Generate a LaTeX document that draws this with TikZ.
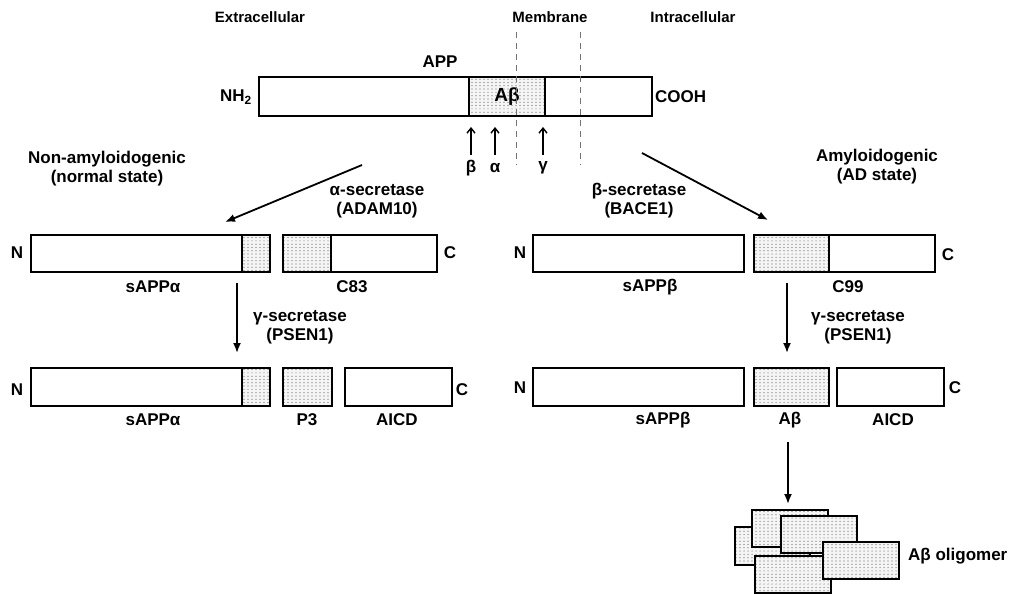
\documentclass[tikz,border=0pt]{standalone}
\usepackage{fontspec}
\setmainfont{Liberation Sans}
\usetikzlibrary{arrows.meta,patterns}
\pgfdeclarepatternformonly{mydots}{\pgfqpoint{-1pt}{-1pt}}{\pgfqpoint{1pt}{1pt}}{\pgfqpoint{4pt}{3.3pt}}{\pgfpathcircle{\pgfqpoint{0pt}{0pt}}{0.6pt}\pgfusepath{fill}}
\begin{document}
\begin{tikzpicture}[x=1pt,y=-1pt,
  seg/.style={draw, line width=2.6pt, inner sep=0pt, outer sep=0pt, anchor=north west, fill=white},
  dotseg/.style={seg, preaction={fill=black!4}, pattern=mydots, pattern color=black!60},
  txt/.style={inner sep=0pt, font=\fontsize{17}{19}\selectfont\bfseries},
  small/.style={inner sep=0pt, font=\fontsize{15}{17}\selectfont\bfseries},
  arr/.style={line width=1.8pt, -{Latex[length=10pt,width=8pt]}},
  cut/.style={line width=1.4pt, -{Straight Barb[length=5pt,width=8pt]}},
  membr/.style={line width=0.9pt, draw=black!55, dash pattern=on 6pt off 5pt}]
\useasboundingbox (0,0) rectangle (1013,594);

% top labels
\node[small] (ext) at (260,17) {Extracellular};
\node[small] (mem) at (550,17) {Membrane};
\node[small] (int) at (693,17) {Intracellular};

% membrane dashed lines
\coordinate (m1a) at (516,32); \coordinate (m1b) at (516,165);
\coordinate (m2a) at (580,32); \coordinate (m2b) at (580,165);

% APP
\node[txt] (applab) at (440,62) {APP};
\node[seg, minimum width=210pt, minimum height=39pt] (app1) at (259,77) {};
\node[dotseg, minimum width=76pt, minimum height=39pt] (app2) at (469,77) {};
\node[txt, font=\fontsize{19}{21}\selectfont\bfseries] (abtxt) at (507,97) {Aβ};
\node[seg, minimum width=107pt, minimum height=39pt] (app3) at (545,77) {};
\draw[membr] (m1a) -- (m1b);
\draw[membr] (m2a) -- (m2b);
\node[txt] (nh2) at (236,97) {NH\textsubscript{2}};
\node[txt, anchor=west] (cooh) at (655,97) {COOH};

% cleavage sites
\node[txt] (beta) at (471,168) {β};
\node[txt] (alpha) at (495,168) {α};
\node[txt] (gamma) at (543,168) {γ};
\coordinate (cb1) at (471,155); \coordinate (cb2) at (471,127);
\coordinate (ca1) at (495,155); \coordinate (ca2) at (495,127);
\coordinate (cg1) at (543,155); \coordinate (cg2) at (543,127);
\draw[cut] (cb1) -- (cb2);
\draw[cut] (ca1) -- (ca2);
\draw[cut] (cg1) -- (cg2);

% pathway labels
\node[txt, align=center] (nonam) at (107,169) {Non-amyloidogenic\\(normal state)};
\node[txt, align=center] (amy) at (877,167) {Amyloidogenic\\(AD state)};
\node[txt, align=center] (asec) at (377,201) {α-secretase\\(ADAM10)};
\node[txt, align=center] (bsec) at (639,201) {β-secretase\\(BACE1)};

\coordinate (l1) at (362,165); \coordinate (l2) at (225,222);
\coordinate (r1) at (642,153); \coordinate (r2) at (768,220);
\draw[arr] (l1) -- (l2);
\draw[arr] (r1) -- (r2);

% row 1 left
\node[txt] (n1l) at (17,253) {N};
\node[seg, minimum width=211pt, minimum height=37pt] (sa1) at (31,235) {};
\node[dotseg, minimum width=28pt, minimum height=37pt] (sa1d) at (242,235) {};
\node[dotseg, minimum width=48pt, minimum height=37pt] (c83d) at (283,235) {};
\node[seg, minimum width=106pt, minimum height=37pt] (c83w) at (331,235) {};
\node[txt] (c1l) at (450,253) {C};
\node[txt] (lsa1) at (153,287) {sAPPα};
\node[txt] (lc83) at (352,287) {C83};

% row 1 right
\node[txt] (n1r) at (520,253) {N};
\node[seg, minimum width=211pt, minimum height=37pt] (sb1) at (533,235) {};
\node[dotseg, minimum width=75pt, minimum height=37pt] (c99d) at (754,235) {};
\node[seg, minimum width=106pt, minimum height=37pt] (c99w) at (829,235) {};
\node[txt] (c1r) at (948,255) {C};
\node[txt] (lsb1) at (650,287) {sAPPβ};
\node[txt] (lc99) at (848,287) {C99};

% gamma secretase
\node[txt, align=center] (gsl) at (300,327) {γ-secretase\\(PSEN1)};
\node[txt, align=center] (gsr) at (858,327) {γ-secretase\\(PSEN1)};
\coordinate (dl1) at (237,283); \coordinate (dl2) at (237,353);
\coordinate (dr1) at (787,283); \coordinate (dr2) at (787,353);
\draw[arr] (dl1) -- (dl2);
\draw[arr] (dr1) -- (dr2);

% row 2 left
\node[txt] (n2l) at (17,390) {N};
\node[seg, minimum width=211pt, minimum height=38pt] (sa2) at (31,368) {};
\node[dotseg, minimum width=28pt, minimum height=38pt] (sa2d) at (242,368) {};
\node[dotseg, minimum width=49pt, minimum height=38pt] (p3) at (283,368) {};
\node[seg, minimum width=107pt, minimum height=38pt] (aicdl) at (345,368) {};
\node[txt] (c2l) at (462,390) {C};
\node[txt] (lsa2) at (153,420) {sAPPα};
\node[txt] (lp3) at (307,420) {P3};
\node[txt] (laicdl) at (397,420) {AICD};

% row 2 right
\node[txt] (n2r) at (520,388) {N};
\node[seg, minimum width=211pt, minimum height=38pt] (sb2) at (533,368) {};
\node[dotseg, minimum width=75pt, minimum height=38pt] (ab) at (754,368) {};
\node[seg, minimum width=107pt, minimum height=38pt] (aicdr) at (837,368) {};
\node[txt] (c2r) at (955,388) {C};
\node[txt] (lsb2) at (663,420) {sAPPβ};
\node[txt] (lab) at (790,420) {Aβ};
\node[txt] (laicdr) at (893,420) {AICD};

% oligomer
\coordinate (o1) at (788,442); \coordinate (o2) at (788,504);
\draw[arr] (o1) -- (o2);
\node[dotseg, minimum width=75pt, minimum height=38pt] (ol1) at (735,527) {};
\node[dotseg, minimum width=76pt, minimum height=37pt] (ol2) at (752,510) {};
\node[dotseg, minimum width=76pt, minimum height=37pt] (ol3) at (781,516) {};
\node[dotseg, minimum width=76pt, minimum height=37pt] (ol5) at (755,556) {};
\node[dotseg, minimum width=76pt, minimum height=37pt] (ol4) at (823,542) {};
\node[txt, anchor=west] (olab) at (908,556) {Aβ oligomer};
\end{tikzpicture}
\end{document}
